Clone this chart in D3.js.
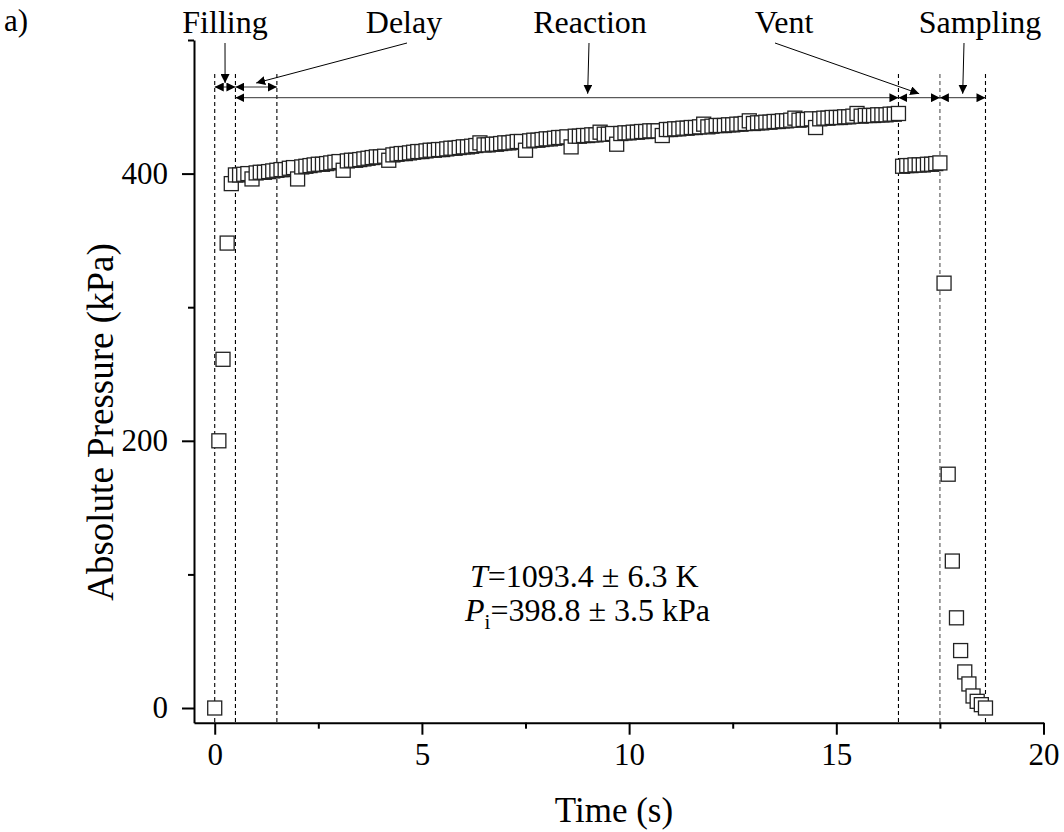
<!DOCTYPE html>
<html>
<head>
<meta charset="utf-8">
<script src="https://cdn.jsdelivr.net/npm/d3@7"></script>
<style>
  body { margin: 0; background: #fff; }
  svg text { font-family: "Liberation Serif", "Times New Roman", serif; fill: #000; }
</style>
</head>
<body>
<div id="chart"></div>
<script>
// pressure logger, one reading every 0.1 s starting at t = 0
const sampleInterval = 0.1;
const fillingP = [0, 200, 261, 348, 392.5];
const reactionP = [
  399, 399, 399.5, 400, 396, 400.5, 401, 401, 401.5, 402,
  402.5, 403, 403, 404, 404.5, 396, 405, 405.5, 406, 406.5,
  407, 407, 407.5, 408, 408.5, 409, 402.5, 409.5, 410, 410,
  410.5, 411, 411.5, 412, 412.5, 412.5, 413, 410, 414, 414.5,
  415, 415, 415.5, 416, 416.5, 416.5, 417, 417.5, 417.5, 418,
  418, 418.5, 419, 419, 419.5, 420, 420, 420.5, 421, 423,
  421.5, 421.5, 422, 422, 422.5, 423, 423, 423.5, 424, 424,
  417.5, 424.5, 425, 425, 425.5, 426, 426, 426.5, 427, 427,
  427.5, 420, 428, 428, 428.5, 428.5, 429, 429, 431, 429.5,
  429.5, 430, 422, 430, 430.5, 430.5, 431, 431, 431.5, 431.5,
  432, 432, 432, 428.5, 433, 433, 433.5, 433.5, 434, 434,
  434.5, 434.5, 435, 437, 435, 435.5, 436, 436, 436, 436.5,
  436.5, 437, 437, 437.5, 439.5, 437.5, 438, 438, 438.5, 438.5,
  439, 439, 439.5, 439.5, 440, 441.5, 440, 440.5, 440.5, 441,
  434.5, 441, 441.5, 441.5, 442, 442, 442, 442.5, 442.5, 443,
  445, 443, 443.5, 443.5, 443.5, 444, 444, 444, 444.5, 444.5,
  445
];
const ventP = [405.5, 406, 406, 406.5, 406.5, 406.5, 407, 407, 407.5, 408];
const samplingP = [318, 175, 110, 67.5, 43, 27, 18, 9, 5, 2.5, 0];

// phase spans (s): Reaction overlaps Delay
const phaseNames = ["Filling", "Delay", "Reaction", "Vent", "Sampling"];
const phaseStart = [0, 0.5, 0.5, 16.5, 17.5];
const phaseEnd = [0.5, 1.5, 16.5, 17.5, 18.6];
const calloutAt = [0.25, 1.0, 9.0, 17.0, 18.05];
const boundaries = [0, 0.5, 1.5, 16.5, 17.5, 18.6];

const xMajor = [0, 5, 10, 15, 20];
const xMinor = [2.5, 7.5, 12.5, 17.5];
const yMajor = [0, 200, 400];
const yMinor = [100, 300, 500];

const pressure = fillingP.concat(reactionP, ventP, samplingP);
const data = pressure.map((p, i) => ({t: +(i * sampleInterval).toFixed(2), p: p}));

const W = 1064, H = 832;
const svg = d3.select("#chart").append("svg")
  .attr("width", W).attr("height", H);

const x = d3.scaleLinear().domain([-0.5, 20]).range([194, 1043.5]);
const y = d3.scaleLinear().domain([-11, 500]).range([722.7, 40]);
const x0 = x.range()[0], yBase = y.range()[0];

// arrow heads
const defs = svg.append("defs");
defs.append("marker")
  .attr("id", "head")
  .attr("viewBox", "0 0 10 10")
  .attr("refX", 10).attr("refY", 5)
  .attr("markerUnits", "userSpaceOnUse")
  .attr("markerWidth", 9).attr("markerHeight", 9)
  .attr("orient", "auto-start-reverse")
  .append("path").attr("d", "M0,0 L10,5 L0,10 Z").attr("fill", "#000");

// phase boundaries
svg.append("g").selectAll("line")
  .data(boundaries)
  .join("line")
  .attr("x1", d => x(d)).attr("x2", d => x(d))
  .attr("y1", 74).attr("y2", yBase)
  .attr("stroke", d => d === 17.5 ? "#888" : "#000")
  .attr("stroke-width", d => d === 17.5 ? 1.6 : 1.1)
  .attr("stroke-dasharray", "4,3");

// span arrows: first two on the upper row
const spans = phaseNames.map((name, i) => ({
  name: name, a: phaseStart[i], b: phaseEnd[i], c: calloutAt[i], row: i < 2 ? 87 : 97.7
}));
svg.append("g").selectAll("line")
  .data(spans)
  .join("line")
  .attr("x1", d => x(d.a)).attr("x2", d => x(d.b))
  .attr("y1", d => d.row).attr("y2", d => d.row)
  .attr("stroke", "#333").attr("stroke-width", 1)
  .attr("marker-start", "url(#head)")
  .attr("marker-end", "url(#head)");

// labels and callouts
const labelX = [225, 404, 590, 784, 980];
const calloutX = [225, 407, 589, 775, 964];
svg.append("g").selectAll("text")
  .data(spans)
  .join("text")
  .attr("x", (d, i) => labelX[i]).attr("y", 33)
  .attr("text-anchor", "middle")
  .style("font-size", "32px")
  .text(d => d.name);
svg.append("g").selectAll("line")
  .data(spans)
  .join("line")
  .attr("x1", (d, i) => calloutX[i]).attr("y1", 43)
  .attr("x2", d => x(d.c)).attr("y2", d => d.row - 4)
  .attr("stroke", "#000").attr("stroke-width", 1)
  .attr("marker-end", "url(#head)");

// data
svg.append("g").selectAll("rect")
  .data(data)
  .join("rect")
  .attr("x", d => x(d.t) - 7).attr("y", d => y(d.p) - 7)
  .attr("width", 14).attr("height", 14)
  .attr("fill", "#fff").attr("stroke", "#222").attr("stroke-width", 1.3);

// axes
const gx = svg.append("g").attr("transform", `translate(0,${yBase})`);
gx.call(d3.axisBottom(x).tickValues(xMajor).tickSize(12).tickSizeOuter(0).tickPadding(8));
gx.append("g").call(d3.axisBottom(x).tickValues(xMinor).tickSize(6).tickFormat("").tickSizeOuter(0))
  .select(".domain").remove();
const gy = svg.append("g").attr("transform", `translate(${x0},0)`);
gy.call(d3.axisLeft(y).tickValues(yMajor).tickSize(12).tickSizeOuter(0).tickPadding(14));
gy.append("g").call(d3.axisLeft(y).tickValues(yMinor).tickSize(6).tickFormat("").tickSizeOuter(0))
  .select(".domain").remove();
svg.selectAll(".domain, .tick line").attr("stroke", "#000").attr("stroke-width", 2);
svg.selectAll(".tick text")
  .attr("font-family", null)
  .style("font-family", "'Liberation Serif', 'Times New Roman', serif")
  .style("font-size", "31px").attr("fill", "#000");

// axis titles
svg.append("text")
  .attr("x", 614).attr("y", 822)
  .attr("text-anchor", "middle")
  .style("font-size", "35px")
  .text("Time (s)");
svg.append("text")
  .attr("transform", "translate(113,422) rotate(-90)")
  .attr("text-anchor", "middle")
  .style("font-size", "37px")
  .text("Absolute Pressure (kPa)");

svg.append("text").attr("x", 4).attr("y", 31)
  .style("font-size", "31px").text("a)");

// conditions
const note = svg.append("g").style("font-size", "32px");
const l1 = note.append("text").attr("x", 470).attr("y", 587);
l1.append("tspan").style("font-style", "italic").text("T");
l1.append("tspan").text("=1093.4 ± 6.3 K");
const l2 = note.append("text").attr("x", 465).attr("y", 621);
l2.append("tspan").style("font-style", "italic").text("P");
l2.append("tspan").attr("dy", 8).style("font-size", "21px").text("i");
l2.append("tspan").attr("dy", -8).text("=398.8 ± 3.5 kPa");
</script>
</body>
</html>
